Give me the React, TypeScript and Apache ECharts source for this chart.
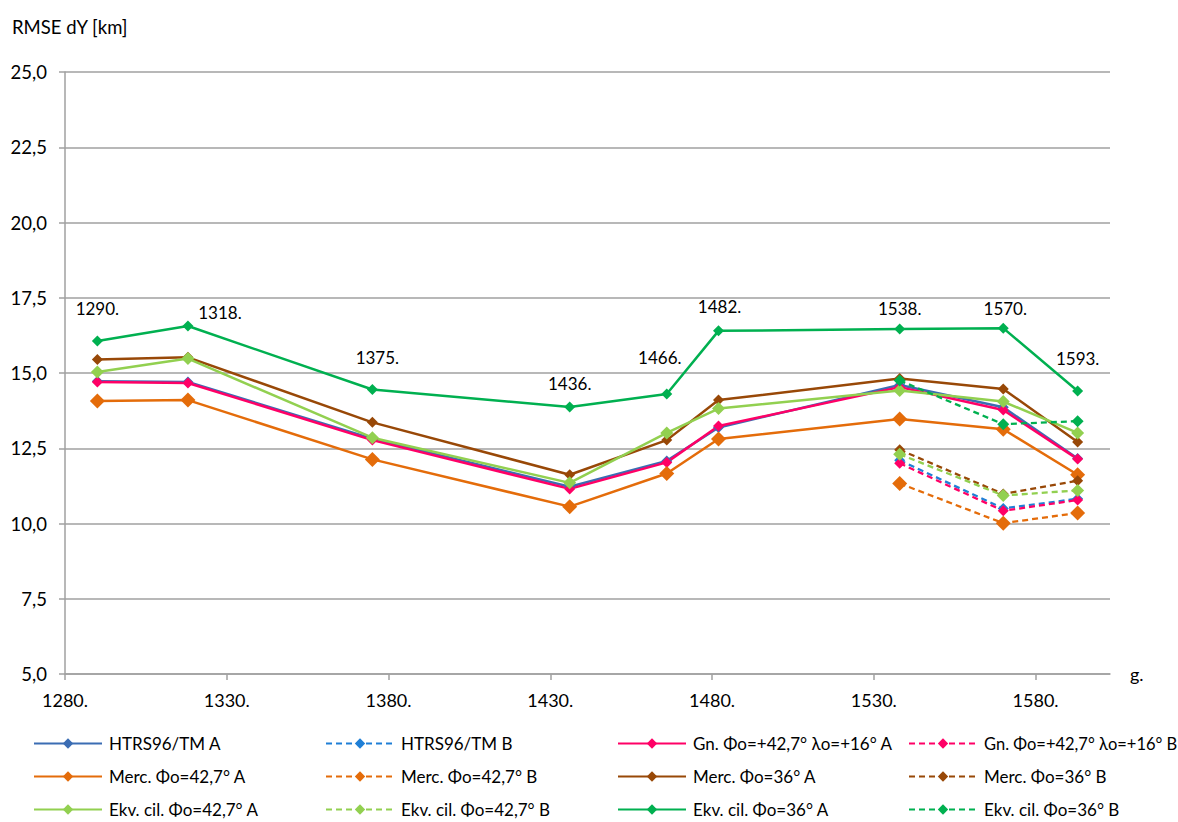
import React, { useEffect, useRef } from "react";
import * as echarts from "echarts";

const years = [1290, 1318, 1375, 1436, 1466, 1482, 1538, 1570, 1593];
const yearsB = [1538, 1570, 1593];

const htrsA = [14.73, 14.7, 12.82, 11.22, 12.08, 13.19, 14.6, 13.86, 12.16];
const gnA = [14.7, 14.67, 12.77, 11.15, 12.03, 13.24, 14.53, 13.77, 12.14];
const mercA427 = [14.07, 14.1, 12.13, 10.56, 11.66, 12.81, 13.47, 13.13, 11.62];
const mercA36 = [15.45, 15.52, 13.36, 11.62, 12.77, 14.1, 14.82, 14.47, 12.71];
const ekvA427 = [15.03, 15.48, 12.85, 11.35, 13.01, 13.82, 14.42, 14.05, 13.01];
const ekvA36 = [16.06, 16.56, 14.45, 13.87, 14.3, 16.4, 16.46, 16.49, 14.4];

const htrsB = [12.1, 10.5, 10.82];
const gnB = [12.0, 10.42, 10.78];
const mercB427 = [11.33, 10.01, 10.35];
const mercB36 = [12.45, 10.98, 11.42];
const ekvB427 = [12.3, 10.93, 11.1];
const ekvB36 = [14.75, 13.3, 13.4];

const labelOffsets = [
  [0, -33], [32, -14], [5, -32], [0, -24], [-7, -37], [1, -24], [0, -21], [2, -20], [0, -33],
];

const yTicks = [5, 7.5, 10, 12.5, 15, 17.5, 20, 22.5, 25];

const FONT = "Lato, 'Open Sans', sans-serif";

export default function App() {
  const ref = useRef<HTMLDivElement>(null);
  useEffect(() => {
    document.body.style.margin = "0";
    if (!ref.current) return;
    const chart = echarts.init(ref.current, null, { renderer: "svg" });

    const mk = (
      name: string,
      color: string,
      xs: number[],
      ys: number[],
      dashed: boolean,
      size = 11,
      extra: any = {}
    ) => ({
      name,
      type: "line",
      data: xs.map((x, i) => [x, ys[i]]),
      symbol: "diamond",
      symbolSize: size,
      itemStyle: { color },
      lineStyle: { color, width: dashed ? 2.3 : 2.5, type: dashed ? [6, 4] : "solid" },
      ...extra,
    });

    const ekvData = years.map((x, i) => ({
      value: [x, ekvA36[i]],
      label: {
        show: true,
        position: "inside",
        formatter: x + ".",
        offset: labelOffsets[i],
        color: "#000",
        fontSize: 17,
        fontFamily: FONT,
      },
    }));

    const series: any[] = [
      mk("HTRS96/TM A", "#3B6DB3", years, htrsA, false),
      mk("HTRS96/TM B", "#1F7FD6", yearsB, htrsB, true),
      mk("Gn. Φo=+42,7° λo=+16° A", "#FF0066", years, gnA, false),
      mk("Gn. Φo=+42,7° λo=+16° B", "#FF0066", yearsB, gnB, true),
      mk("Merc. Φo=42,7° A", "#E46C0A", years, mercA427, false, 15),
      mk("Merc. Φo=42,7° B", "#E46C0A", yearsB, mercB427, true, 15),
      mk("Merc. Φo=36° A", "#984807", years, mercA36, false),
      mk("Merc. Φo=36° B", "#984807", yearsB, mercB36, true),
      mk("Ekv. cil. Φo=42,7° A", "#92D050", years, ekvA427, false, 13),
      mk("Ekv. cil. Φo=42,7° B", "#92D050", yearsB, ekvB427, true, 13),
      { ...mk("Ekv. cil. Φo=36° A", "#00B050", years, ekvA36, false), data: ekvData },
      mk("Ekv. cil. Φo=36° B", "#00B050", yearsB, ekvB36, true, 12),
    ];

    const colX = [33, 325, 617, 908];
    const rowY = [735, 768, 801];
    const legends = series.map((s, i) => ({
      data: [s.name],
      left: colX[i % 4],
      top: rowY[Math.floor(i / 4)],
      padding: 0,
      itemWidth: 68,
      itemHeight: 13,
      itemGap: 0,
      selectedMode: false,
      textStyle: { fontSize: i === 3 ? 16.5 : 17, fontFamily: FONT, color: "#000", padding: [0, 0, 0, 2] },
    }));

    chart.setOption({
      animation: false,
      backgroundColor: "#fff",
      grid: { left: 65, right: 68, top: 72, bottom: 148, containLabel: false },
      legend: legends,
      xAxis: {
        type: "value",
        min: 1280,
        max: 1603,
        interval: 50,
        name: "g.",
        nameLocation: "end",
        nameGap: 20,
        nameTextStyle: { fontSize: 18, fontFamily: FONT, color: "#000", verticalAlign: "middle" },
        axisLine: { show: true, lineStyle: { color: "#A0A0A0", width: 1.5 } },
        axisTick: { show: true, length: 6, lineStyle: { color: "#A0A0A0", width: 1.5 } },
        splitLine: { show: false },
        axisLabel: {
          showMaxLabel: false,
          formatter: (v: number) => v + ".",
          fontSize: 18,
          fontFamily: FONT,
          color: "#000",
          margin: 17,
        },
      },
      yAxis: {
        type: "value",
        min: yTicks[0],
        max: yTicks[yTicks.length - 1],
        interval: 2.5,
        name: "RMSE dY [km]",
        nameLocation: "end",
        nameGap: 36,
        nameTextStyle: {
          fontSize: 18.5,
          fontFamily: FONT,
          color: "#000",
          align: "left",
          padding: [0, 0, 0, -53],
        },
        axisLine: { show: true, lineStyle: { color: "#A0A0A0", width: 1.5 } },
        axisTick: { show: true, length: 6, lineStyle: { color: "#A0A0A0", width: 1.5 } },
        splitLine: { show: true, lineStyle: { color: "#A0A0A0", width: 1.5 } },
        axisLabel: {
          formatter: (v: number) => v.toFixed(1).replace(".", ","),
          fontSize: 18.5,
          fontFamily: FONT,
          color: "#000",
          margin: 18,
        },
      },
      series,
    });
    return () => chart.dispose();
  }, []);

  return <div ref={ref} style={{ width: 1178, height: 822 }} />;
}
